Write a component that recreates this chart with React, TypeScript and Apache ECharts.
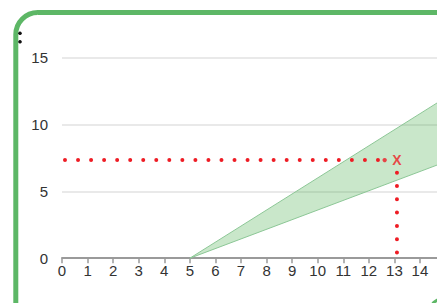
import React, { useEffect, useRef } from "react";
import * as echarts from "echarts";

const xTicks = [0, 16];
const xLastLabel = 14;
const yTicks = [0, 15];
const bandX = [5, 15];
const bandLower = [0, 7.2];
const bandUpper = [0, 12.0];
const guideX = 13.1;
const guideY = 7.33;
const hLineX = [0.117, 12.37];
const hLineEndDot = 12.62;
const vLineY = [6.39, 0.4];

export default function App() {
  const ref = useRef<HTMLDivElement>(null);
  useEffect(() => {
    if (!ref.current) return;
    document.body.style.overflow = "hidden";
    const chart = echarts.init(ref.current, undefined, { renderer: "svg" });
    const font = 'Helvetica, Arial, "Liberation Sans", sans-serif';
    const red = "#ee1c24";
    const edge = "#8cc796";
    chart.setOption({
      animation: false,
      backgroundColor: "#ffffff",
      grid: { left: 62, right: 8.9, top: 57.5, bottom: 44.8, containLabel: false },
      xAxis: {
        type: "value",
        min: xTicks[0],
        max: xTicks[1],
        interval: 1,
        axisLine: { show: true, lineStyle: { color: "#9a9a9a", width: 2 } },
        axisTick: { show: true, length: 5, lineStyle: { color: "#9a9a9a", width: 1.5 } },
        axisLabel: {
          color: "#333",
          fontSize: 15,
          fontFamily: font,
          margin: 5,
          formatter: (v: number) => (v <= xLastLabel ? String(v) : ""),
        },
        splitLine: { show: false },
      },
      yAxis: {
        type: "value",
        min: yTicks[0],
        max: yTicks[1],
        interval: 5,
        axisLine: { show: false },
        axisTick: { show: false },
        axisLabel: { color: "#333", fontSize: 15, fontFamily: font, margin: 14 },
        splitLine: { show: true, lineStyle: { color: "#e2e2e2", width: 1.5 } },
      },
      series: [
        {
          type: "custom",
          data: bandX.map((x, i) => [x, bandLower[i], bandUpper[i]]),
          encode: { x: 0, y: [1, 2] },
          z: 2,
          renderItem: (params: any, api: any) => {
            if (params.dataIndex !== 0) return null;
            const up = bandX.map((x, i) => api.coord([x, bandUpper[i]]));
            const lo = bandX.map((x, i) => api.coord([x, bandLower[i]]));
            return {
              type: "group",
              children: [
                {
                  type: "polygon",
                  shape: { points: up.concat(lo.slice().reverse()) },
                  style: { fill: "rgba(76,175,80,0.3)" },
                },
                {
                  type: "polyline",
                  shape: { points: up },
                  style: { stroke: edge, lineWidth: 1, fill: null },
                },
                {
                  type: "polyline",
                  shape: { points: lo },
                  style: { stroke: edge, lineWidth: 1, fill: null },
                },
              ],
            };
          },
        },
        {
          type: "line",
          data: hLineX.map((x) => [x, guideY]),
          symbol: "none",
          lineStyle: { color: red, width: 4, type: [0, 13.04], cap: "round" },
          z: 5,
        },
        {
          type: "line",
          data: vLineY.map((y) => [guideX, y]),
          symbol: "none",
          lineStyle: { color: red, width: 4, type: [0, 13.3], cap: "round" },
          z: 5,
        },
        {
          type: "scatter",
          data: [[hLineEndDot, guideY]],
          symbol: "circle",
          symbolSize: 4.4,
          itemStyle: { color: red },
          z: 5,
        },
        {
          type: "scatter",
          data: [[guideX, guideY]],
          symbolSize: 0,
          label: {
            show: true,
            position: "inside",
            formatter: "X",
            color: red,
            fontSize: 14,
            fontWeight: "bold",
            fontFamily: font,
          },
          z: 6,
        },
      ],
      graphic: [
        {
          type: "rect",
          shape: { x: 15.8, y: 12.5, width: 700, height: 700, r: 22 },
          style: { fill: "none", stroke: "#5db766", lineWidth: 5 },
          z: 10,
        },
        {
          type: "rect",
          shape: { x: 431, y: 299.5, width: 60, height: 60, r: 10 },
          style: { fill: "none", stroke: "#5db766", lineWidth: 3 },
          z: 10,
        },
        { type: "circle", shape: { cx: 20, cy: 33.3, r: 1.8 }, style: { fill: "#111" }, z: 11 },
        { type: "circle", shape: { cx: 20, cy: 41.7, r: 1.8 }, style: { fill: "#111" }, z: 11 },
      ],
    });
    return () => chart.dispose();
  }, []);
  return (
    <div
      ref={ref}
      style={{ position: "fixed", left: 0, top: 0, width: 480, height: 303 }}
    />
  );
}
